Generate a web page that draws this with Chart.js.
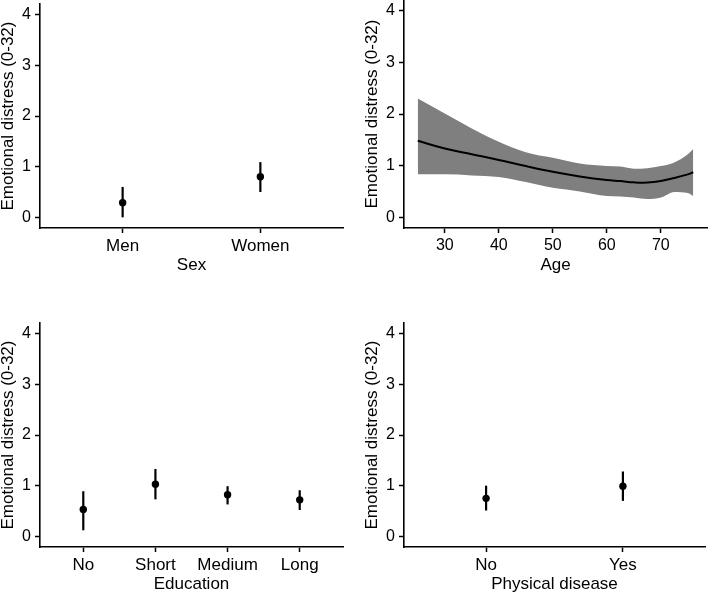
<!DOCTYPE html>
<html>
<head>
<meta charset="utf-8">
<script src="https://cdn.jsdelivr.net/npm/chart.js@4/dist/chart.umd.min.js"></script>
<style>
  html, body { margin: 0; padding: 0; background: #fff; }
  #wrap { position: relative; width: 709px; height: 595px; overflow: hidden; background: #fff; }
  canvas { position: absolute; }
</style>
</head>
<body>
<div id="wrap">
  <canvas id="c1" width="354" height="300" style="left:0px;top:0px"></canvas>
  <canvas id="c2" width="345" height="300" style="left:364px;top:0px"></canvas>
  <canvas id="c3" width="354" height="300" style="left:0px;top:319px"></canvas>
  <canvas id="c4" width="345" height="300" style="left:364px;top:319px"></canvas>
</div>
<script>
// ---- data ----
const yTicks = [0, 1, 2, 3, 4];
const yTitle = 'Emotional distress (0-32)';

const sexCategories = ['Men', 'Women'];
const sexMean  = [0.29, 0.80];
const sexLower = [0.00, 0.50];
const sexUpper = [0.60, 1.09];

const ageValues = [25, 30, 35, 40, 45, 50, 55, 60, 62.5, 65, 67.5, 70, 72.5, 75, 76];
const ageFit    = [1.48, 1.33, 1.22, 1.11, 0.99, 0.88, 0.79, 0.72, 0.70, 0.675, 0.67, 0.70, 0.76, 0.83, 0.87];
const ageUpper  = [2.30, 2.01, 1.72, 1.46, 1.26, 1.15, 1.04, 0.99, 0.98, 0.94, 0.95, 0.99, 1.06, 1.22, 1.32];
const ageLower  = [0.83, 0.83, 0.81, 0.78, 0.68, 0.57, 0.50, 0.41, 0.40, 0.38, 0.35, 0.38, 0.49, 0.47, 0.41];
const ageTicks  = [30, 40, 50, 60, 70];

const eduCategories = ['No', 'Short', 'Medium', 'Long'];
const eduMean  = [0.53, 1.03, 0.82, 0.72];
const eduLower = [0.12, 0.73, 0.63, 0.52];
const eduUpper = [0.89, 1.33, 0.99, 0.91];

const disCategories = ['No', 'Yes'];
const disMean  = [0.75, 0.99];
const disLower = [0.51, 0.70];
const disUpper = [1.00, 1.28];

// ---- styling ----
const FAMILY = '"Liberation Sans", Arial, Helvetica, sans-serif';
const TXT = '#000';
const numFont = { family: FAMILY, size: 16 };
const catFont = { family: FAMILY, size: 17 };
const titleFont = { family: FAMILY, size: 17, lineHeight: 1.2 };

function gridOpts() {
  return { display: true, drawOnChartArea: false, drawTicks: true, tickLength: 5, tickWidth: 1.5, tickColor: '#000', color: '#000' };
}
function borderOpts() { return { display: true, color: '#000', width: 1.6 }; }

function yScale() {
  return {
    type: 'linear', min: -0.21, max: 4.21,
    afterBuildTicks: ax => { ax.ticks = yTicks.map(v => ({ value: v })); },
    ticks: { font: numFont, color: TXT, padding: 4 },
    grid: gridOpts(), border: borderOpts(),
    title: { display: true, text: yTitle, color: TXT, font: { family: FAMILY, size: 17, lineHeight: 1 }, padding: { top: 0, bottom: 0 } },
    afterFit: s => { s.width = 40; s.paddingTop = 0; s.paddingBottom = 0; }
  };
}
function xTitleOpts(text) {
  return { display: true, text: text, color: TXT, font: titleFont, padding: { top: 0, bottom: 24 } };
}
function xFit(s) { s.height = 72; s.paddingLeft = 0; s.paddingRight = 0; }

function baseOptions(padRight, xScale) {
  return {
    responsive: false, animation: false, events: [],
    layout: { padding: { left: 0, right: padRight, top: 0, bottom: 0 } },
    plugins: { legend: { display: false }, tooltip: { enabled: false } },
    scales: { x: xScale, y: yScale() }
  };
}

function catPanel(id, cats, mean, lo, hi, xTitle, padRight) {
  const datasets = cats.map((c, i) => ({
    data: [{ x: i + 1, y: lo[i] }, { x: i + 1, y: hi[i] }],
    borderColor: '#000', borderWidth: 2.2, pointRadius: 0, showLine: true, fill: false, order: 1
  }));
  datasets.push({
    data: mean.map((m, i) => ({ x: i + 1, y: m })),
    showLine: false, pointRadius: 3.7, pointBackgroundColor: '#000', pointBorderColor: '#000', pointBorderWidth: 0, order: 0
  });
  const xScale = {
    type: 'linear', min: 0.4, max: cats.length + 0.6,
    afterBuildTicks: ax => { ax.ticks = cats.map((c, i) => ({ value: i + 1 })); },
    ticks: { callback: v => cats[Math.round(v) - 1], font: catFont, color: TXT, maxRotation: 0, autoSkip: false, padding: 3 },
    grid: gridOpts(), border: borderOpts(),
    title: xTitleOpts(xTitle),
    afterFit: xFit
  };
  new Chart(document.getElementById(id), { type: 'scatter', data: { datasets }, options: baseOptions(padRight, xScale) });
}

catPanel('c1', sexCategories, sexMean, sexLower, sexUpper, 'Sex', 11);
catPanel('c3', eduCategories, eduMean, eduLower, eduUpper, 'Education', 11);
catPanel('c4', disCategories, disMean, disLower, disUpper, 'Physical disease', 2);

// Age panel
(function () {
  const xScale = {
    type: 'linear', min: 22.45, max: 78.55,
    afterBuildTicks: ax => { ax.ticks = ageTicks.map(v => ({ value: v })); },
    ticks: { font: numFont, color: TXT, maxRotation: 0, autoSkip: false, padding: 3 },
    grid: gridOpts(), border: borderOpts(),
    title: xTitleOpts('Age'),
    afterFit: xFit
  };
  const datasets = [
    { data: ageValues.map((a, i) => ({ x: a, y: ageUpper[i] })), borderWidth: 0, borderColor: 'rgba(0,0,0,0)', backgroundColor: '#7f7f7f', fill: '+1', pointRadius: 0, showLine: true, cubicInterpolationMode: 'monotone', order: 2 },
    { data: ageValues.map((a, i) => ({ x: a, y: ageLower[i] })), borderWidth: 0, borderColor: 'rgba(0,0,0,0)', backgroundColor: '#7f7f7f', fill: false, pointRadius: 0, showLine: true, cubicInterpolationMode: 'monotone', order: 3 },
    { data: ageValues.map((a, i) => ({ x: a, y: ageFit[i] })), borderWidth: 2, borderColor: '#000', fill: false, pointRadius: 0, showLine: true, tension: 0.4, order: 0 }
  ];
  new Chart(document.getElementById('c2'), { type: 'scatter', data: { datasets }, options: baseOptions(2, xScale) });
})();
</script>
</body>
</html>
